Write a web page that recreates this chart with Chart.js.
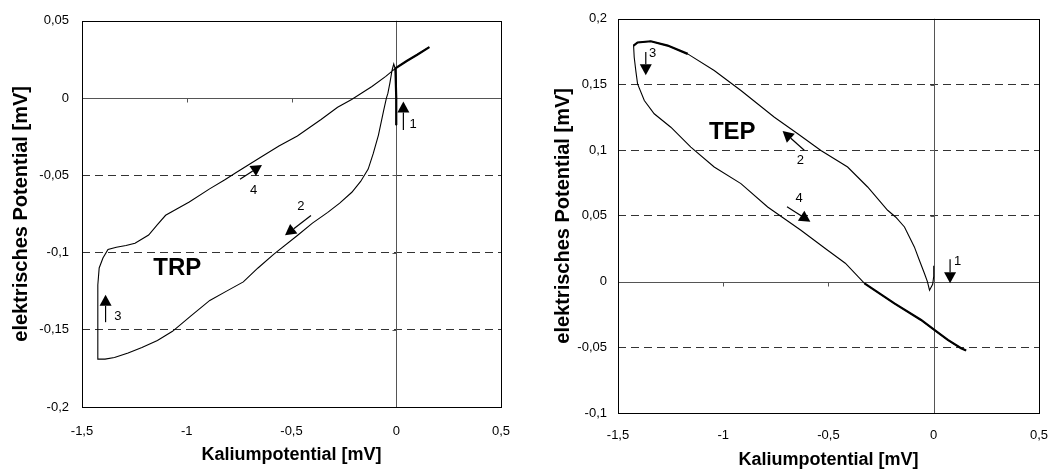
<!DOCTYPE html>
<html>
<head>
<meta charset="utf-8">
<script src="https://cdn.jsdelivr.net/npm/chart.js@4/dist/chart.umd.min.js"></script>
<style>
  body { margin: 0; background: #fff; }
  .box { position: absolute; top: 0; height: 472px; }
</style>
</head>
<body>
<div class="box" style="left:0;width:527px"><canvas id="trpChart" width="527" height="472"></canvas></div>
<div class="box" style="left:527px;width:528px"><canvas id="tepChart" width="528" height="472"></canvas></div>
<script>
// tick labels
const xTicks = [-1.5, -1, -0.5, 0, 0.5];
const trpYTicks = [0.05, 0, -0.05, -0.1, -0.15, -0.2];
const tepYTicks = [0.2, 0.15, 0.1, 0.05, 0, -0.05, -0.1];

// TRP loop (1 up, 2 down along lower branch, 3 up, 4 back along upper branch)
const trpLoopX = [0.0, 0.0, 0.0, -0.005, -0.012, -0.02, -0.03, -0.04, -0.047, -0.06, -0.085, -0.11, -0.134, -0.17, -0.212, -0.27, -0.327, -0.4, -0.472, -0.584, -0.66, -0.73, -0.81, -0.89, -0.98, -1.068, -1.14, -1.214, -1.28, -1.345, -1.39, -1.424,
  -1.425, -1.424, -1.418, -1.40, -1.376, -1.336, -1.29, -1.247, -1.182, -1.14, -1.101, -1.05, -0.988, -0.891, -0.82, -0.762, -0.649, -0.56, -0.472, -0.359, -0.28, -0.213, -0.116, -0.05, -0.004, 0.05, 0.1, 0.158];
const trpLoopY = [-0.018, -0.005, 0.01, 0.019, 0.022, 0.018, 0.01, 0.003, 0.0, -0.008, -0.024, -0.036, -0.046, -0.054, -0.061, -0.068, -0.074, -0.081, -0.089, -0.101, -0.11, -0.119, -0.125, -0.131, -0.141, -0.151, -0.157, -0.1615, -0.165, -0.168, -0.169, -0.169,
  -0.15, -0.121, -0.11, -0.1036, -0.098, -0.0966, -0.0955, -0.094, -0.0887, -0.082, -0.0759, -0.072, -0.0673, -0.0588, -0.053, -0.048, -0.0385, -0.031, -0.0246, -0.0139, -0.006, -0.001, 0.0075, 0.014, 0.0192, 0.024, 0.028, 0.033];
// overlapping return path (drawn heavier)
const trpBackX = [0.158, 0.1, 0.05, -0.004, 0.0, 0.0];
const trpBackY = [0.033, 0.028, 0.024, 0.0192, 0.0, -0.0175];

// TEP loop
const tepLoopX = [0.0, 0.0, -0.005, -0.02, -0.03, -0.044, -0.07, -0.092, -0.139, -0.18, -0.219, -0.314, -0.409, -0.536, -0.646, -0.757, -0.916, -1.043, -1.169, -1.264, -1.344, -1.407, -1.426,
  -1.423, -1.415, -1.407, -1.375, -1.328, -1.249, -1.154, -1.043, -0.916, -0.789, -0.631, -0.504, -0.42, -0.329, -0.187, -0.06, 0.003, 0.067, 0.13, 0.154];
const tepLoopY = [0.012, 0.004, -0.002, -0.0065, 0.0, 0.0062, 0.017, 0.0264, 0.0416, 0.049, 0.0543, 0.072, 0.0872, 0.0998, 0.1125, 0.1251, 0.1454, 0.1606, 0.1733, 0.1796, 0.1829, 0.182, 0.1796,
  0.1707, 0.16, 0.1505, 0.1378, 0.1277, 0.1175, 0.1024, 0.0872, 0.0746, 0.0568, 0.0391, 0.0239, 0.014, -0.0014, -0.0166, -0.0292, -0.0368, -0.0444, -0.0507, -0.0525];
const tepBackX = [0.154, 0.13, 0.067, 0.003, -0.06, -0.187, -0.329];
const tepBackY = [-0.0525, -0.0507, -0.0444, -0.0368, -0.0292, -0.0166, -0.0014];
const tepCapX = [-1.426, -1.407, -1.344, -1.264, -1.169];
const tepCapY = [0.1796, 0.182, 0.1829, 0.1796, 0.1733];

// arrows and labels, in data units
const trpNotes = [
  { from: [0.034, -0.0207], to: [0.034, -0.0022], text: '1', at: [0.08, -0.017] },
  { from: [-0.407, -0.0761], to: [-0.531, -0.0889], text: '2', at: [-0.455, -0.0703] },
  { from: [-1.3875, -0.1451], to: [-1.3875, -0.1274], text: '3', at: [-1.329, -0.1412] },
  { from: [-0.746, -0.0526], to: [-0.641, -0.0434], text: '4', at: [-0.681, -0.060] }
];
const tepNotes = [
  { from: [0.0777, 0.017], to: [0.0777, -0.0013], text: '1', at: [0.114, 0.0152] },
  { from: [-0.615, 0.1], to: [-0.718, 0.1147], text: '2', at: [-0.634, 0.0919] },
  { from: [-1.368, 0.1747], to: [-1.368, 0.157], text: '3', at: [-1.336, 0.1734] },
  { from: [-0.697, 0.057], to: [-0.586, 0.0456], text: '4', at: [-0.639, 0.0633] }
];

const FONT = 'Arial, "Liberation Sans", sans-serif';
const toPoints = (xs, ys) => xs.map((x, i) => ({ x: x, y: ys[i] }));
const fmt = v => String(+(+v).toFixed(3)).replace('.', ',');

const axesPlugin = {
  id: 'axes',
  beforeDatasetsDraw(chart) {
    const { ctx, chartArea: a, scales: { x, y } } = chart;
    const x0 = Math.round(x.getPixelForValue(0)) + 0.5;
    const y0 = Math.round(y.getPixelForValue(0)) + 0.5;
    ctx.save();
    ctx.strokeStyle = '#555';
    ctx.lineWidth = 1;
    ctx.beginPath();
    ctx.moveTo(x0, a.top); ctx.lineTo(x0, a.bottom);
    ctx.moveTo(a.left, y0); ctx.lineTo(a.right, y0);
    x.ticks.forEach(t => {
      const px = Math.round(x.getPixelForValue(t.value)) + 0.5;
      ctx.moveTo(px, y0); ctx.lineTo(px, y0 + 4);
    });
    y.ticks.forEach(t => {
      const py = Math.round(y.getPixelForValue(t.value)) + 0.5;
      ctx.moveTo(x0 - 4, py); ctx.lineTo(x0, py);
    });
    ctx.stroke();
    ctx.strokeStyle = '#000';
    ctx.strokeRect(Math.round(a.left) + 0.5, Math.round(a.top) + 0.5, Math.round(a.right - a.left), Math.round(a.bottom - a.top));
    ctx.restore();
  }
};

function drawArrow(ctx, x1, y1, x2, y2) {
  const ang = Math.atan2(y2 - y1, x2 - x1);
  const len = 11, half = 6;
  const bx = x2 - len * Math.cos(ang), by = y2 - len * Math.sin(ang);
  ctx.beginPath();
  ctx.moveTo(x1, y1); ctx.lineTo(bx, by);
  ctx.stroke();
  ctx.beginPath();
  ctx.moveTo(x2, y2);
  ctx.lineTo(bx + half * Math.sin(ang), by - half * Math.cos(ang));
  ctx.lineTo(bx - half * Math.sin(ang), by + half * Math.cos(ang));
  ctx.closePath();
  ctx.fill();
}

function notesPlugin(notes, name, namePos) {
  return {
    id: 'notes',
    afterDatasetsDraw(chart) {
      const { ctx, scales: { x, y } } = chart;
      ctx.save();
      ctx.strokeStyle = '#000';
      ctx.fillStyle = '#000';
      ctx.lineWidth = 1.2;
      ctx.textAlign = 'center';
      ctx.textBaseline = 'middle';
      notes.forEach(n => {
        drawArrow(ctx, x.getPixelForValue(n.from[0]), y.getPixelForValue(n.from[1]),
          x.getPixelForValue(n.to[0]), y.getPixelForValue(n.to[1]));
        ctx.font = '13px ' + FONT;
        ctx.fillText(n.text, x.getPixelForValue(n.at[0]), y.getPixelForValue(n.at[1]));
      });
      ctx.font = 'bold 24px ' + FONT;
      ctx.fillText(name, x.getPixelForValue(namePos[0]), y.getPixelForValue(namePos[1]));
      ctx.restore();
    }
  };
}

function makeChart(id, cfg) {
  const heavy = cfg.heavy.map(d => ({ data: d, showLine: true, borderColor: '#000', borderWidth: 2.2, pointRadius: 0 }));
  return new Chart(document.getElementById(id), {
    type: 'scatter',
    data: {
      datasets: [{ data: cfg.loop, showLine: true, borderColor: '#000', borderWidth: 1.1, pointRadius: 0 }].concat(heavy)
    },
    options: {
      responsive: false,
      animation: false,
      events: [],
      layout: { padding: { top: 18, right: cfg.padRight, left: 0, bottom: 0 } },
      plugins: { legend: { display: false }, tooltip: { enabled: false } },
      scales: {
        x: {
          type: 'linear', min: -1.5, max: 0.5,
          afterBuildTicks: s => { s.ticks = xTicks.map(v => ({ value: v })); },
          afterFit: s => { s.height = cfg.xHeight; },
          grid: { display: false },
          border: { display: false },
          ticks: { color: '#000', padding: cfg.xPad, maxRotation: 0, autoSkip: false, font: { family: FONT, size: 13 }, callback: v => fmt(v) },
          title: { display: true, text: 'Kaliumpotential [mV]', color: '#000', font: { family: FONT, size: 18, weight: 'bold' }, padding: { top: 0, bottom: cfg.xTitlePad } }
        },
        y: {
          type: 'linear', min: cfg.yMin, max: cfg.yMax,
          afterBuildTicks: s => { s.ticks = cfg.yTicks.map(v => ({ value: v })); },
          afterFit: s => { s.width = cfg.yWidth; },
          grid: {
            drawTicks: false,
            lineWidth: 1,
            color: c => (c.tick && (c.tick.value === 0 || c.tick.value === cfg.yMin || c.tick.value === cfg.yMax)) ? 'rgba(0,0,0,0)' : '#333'
          },
          border: { display: false, dash: [8, 5] },
          ticks: { color: '#000', padding: cfg.yPad, font: { family: FONT, size: 13 }, callback: v => fmt(v) },
          title: { display: true, text: 'elektrisches Potential [mV]', color: '#000', font: { family: FONT, size: 20, weight: 'bold' }, padding: { top: cfg.yTitlePad, bottom: 0 } }
        }
      }
    },
    plugins: [axesPlugin, notesPlugin(cfg.notes, cfg.name, cfg.namePos)]
  });
}

makeChart('trpChart', {
  loop: toPoints(trpLoopX, trpLoopY), heavy: [toPoints(trpBackX, trpBackY)],
  yMin: -0.2, yMax: 0.05, yTicks: trpYTicks,
  yWidth: 82, xHeight: 65, padRight: 26, xPad: 9, yPad: 13, xTitlePad: 6, yTitlePad: 9,
  notes: trpNotes, name: 'TRP', namePos: [-1.045, -0.1105]
});

makeChart('tepChart', {
  loop: toPoints(tepLoopX, tepLoopY), heavy: [toPoints(tepBackX, tepBackY), toPoints(tepCapX, tepCapY)],
  yMin: -0.1, yMax: 0.2, yTicks: tepYTicks,
  yWidth: 91, xHeight: 59, padRight: 12, xPad: 7, yPad: 11, xTitlePad: 1, yTitlePad: 24,
  notes: tepNotes, name: 'TEP', namePos: [-0.957, 0.1139]
});
</script>
</body>
</html>
